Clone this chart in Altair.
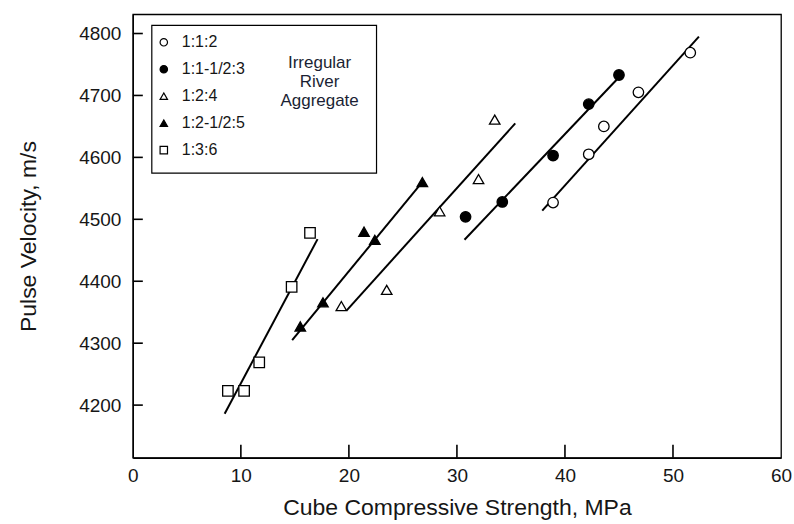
import altair as alt
import pandas as pd

# ---- data ----
series = ["1:1:2", "1:1-1/2:3", "1:2:4", "1:2-1/2:5", "1:3:6"]

s112_x = [38.9, 42.2, 43.6, 46.8, 51.6]
s112_y = [4527, 4605, 4650, 4705, 4769]

s1153_x = [30.8, 34.2, 38.9, 42.2, 45.0]
s1153_y = [4504, 4528, 4603, 4686, 4733]

s124_x = [19.3, 23.5, 28.4, 32.0, 33.5]
s124_y = [4360, 4386, 4513, 4565, 4661]

s1255_x = [15.5, 17.6, 21.4, 22.4, 26.8]
s1255_y = [4327, 4366, 4480, 4467, 4560]

s136_x = [8.8, 10.3, 11.7, 14.7, 16.4]
s136_y = [4223, 4223, 4269, 4391, 4478]

# fitted line end points (x0, x1, y0, y1) per series
fit_x0 = [37.9, 30.7, 19.8, 14.75, 8.5]
fit_x1 = [52.4, 45.2, 35.4, 26.6, 17.1]
fit_y0 = [4514, 4467, 4353, 4305, 4186]
fit_y1 = [4795, 4733, 4655, 4556, 4468]

x_ticks = [0, 10, 20, 30, 40, 50, 60]
y_ticks = [4200, 4300, 4400, 4500, 4600, 4700, 4800]

shapes = ["circle", "circle", "triangle-up", "triangle-up", "square"]
fills = ["white", "black", "white", "black", "white"]

annotation = "Irregular\nRiver\nAggregate"

# ---- tables ----
pts = []
for name, xs_, ys_ in [
    (series[0], s112_x, s112_y),
    (series[1], s1153_x, s1153_y),
    (series[2], s124_x, s124_y),
    (series[3], s1255_x, s1255_y),
    (series[4], s136_x, s136_y),
]:
    for x, y in zip(xs_, ys_):
        pts.append({"mix": name, "x": x, "y": y})
pts = pd.DataFrame(pts)

lines = []
for i, name in enumerate(series):
    lines.append({"mix": name, "x": fit_x0[i], "y": fit_y0[i]})
    lines.append({"mix": name, "x": fit_x1[i], "y": fit_y1[i]})
lines = pd.DataFrame(lines)

xtick_df = pd.DataFrame({"xv": x_ticks[1:-1]})
ytick_df = pd.DataFrame({"yv": y_ticks})

W, H = 649, 444
xs = alt.Scale(domain=[0, 60], nice=False, zero=False)
ys = alt.Scale(domain=[4115, 4831], nice=False, zero=False)

FONT = "Liberation Sans"
TXT = "#161616"

box = alt.Chart(pd.DataFrame({"a": [0]})).mark_rect(
    fill="white", stroke="black", strokeWidth=1.2
).encode(
    x=alt.value(19), x2=alt.value(244), y=alt.value(11), y2=alt.value(159)
)

line_layer = alt.Chart(lines).mark_line(color="black", strokeWidth=2).encode(
    x=alt.X("x:Q", scale=xs,
            axis=alt.Axis(title="Cube Compressive Strength, MPa", values=x_ticks,
                          tickSize=0, labelPadding=9, titlePadding=11, grid=False,
                          labelFlush=False, labelOverlap=False)),
    y=alt.Y("y:Q", scale=ys,
            axis=alt.Axis(title="Pulse Velocity, m/s", values=y_ticks, format="d",
                          tickSize=0, labelPadding=12, titlePadding=38, grid=False,
                          labelFlush=False, labelOverlap=False)),
    detail="mix:N",
)

leg = alt.Legend(title=None, orient="none", legendX=23, legendY=20)

point_layer = alt.Chart(pts).mark_point(
    size=110, strokeWidth=1.3, opacity=1, filled=False
).encode(
    x=alt.X("x:Q", scale=xs),
    y=alt.Y("y:Q", scale=ys),
    shape=alt.Shape("mix:N", sort=series, scale=alt.Scale(domain=series, range=shapes),
                    legend=leg),
    fill=alt.Fill("mix:N", sort=series, scale=alt.Scale(domain=series, range=fills),
                  legend=leg),
    stroke=alt.Stroke("mix:N", sort=series,
                      scale=alt.Scale(domain=series, range=["black"] * 5), legend=leg),
)

xt = alt.Chart(xtick_df).mark_rule(color="#000000", strokeWidth=1.6, opacity=1).encode(
    x=alt.X("xv:Q", scale=xs), y=alt.value(H), y2=alt.value(H - 13)
)
yt = alt.Chart(ytick_df).mark_rule(color="#000000", strokeWidth=1.6, opacity=1).encode(
    y=alt.Y("yv:Q", scale=ys), x=alt.value(0), x2=alt.value(10)
)

note = alt.Chart(pd.DataFrame({"a": [0]})).mark_text(
    lineBreak="\n", fontSize=17, font=FONT, color="#1a1f33", align="center",
    baseline="middle", lineHeight=18.7
).encode(
    x=alt.value(187), y=alt.value(49), text=alt.value(annotation)
)

chart = alt.layer(box, line_layer, point_layer, xt, yt, note).properties(
    width=W, height=H,
    autosize=alt.AutoSizeParams(type="none"),
    padding={"left": 133, "top": 14, "right": 13, "bottom": 66},
    background="white",
).configure_view(
    stroke="black", strokeWidth=1.3
).configure_axis(
    domainColor="black", domainWidth=1.3,
    labelFont=FONT, labelFontSize=19, labelColor=TXT,
    titleFont=FONT, titleFontSize=23, titleColor=TXT, titleFontWeight="normal",
).configure_legend(
    symbolSize=55, symbolStrokeWidth=1.2,
    labelFontSize=16, labelFont=FONT, labelColor=TXT, labelOffset=10,
    rowPadding=11, padding=0, symbolOpacity=1,
)

chart.save("out.html", embed_options={"renderer": "svg", "actions": False})
